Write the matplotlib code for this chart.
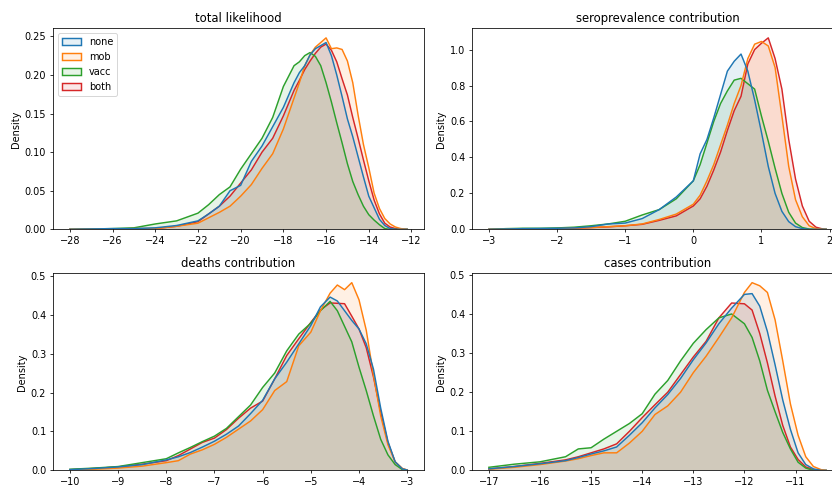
import matplotlib
matplotlib.use("Agg")
import matplotlib.pyplot as plt
from matplotlib.patches import Patch

# hue levels and their colours (seaborn default palette)
labels = ["none", "mob", "vacc", "both"]
colors = ["#1f77b4", "#ff7f0e", "#2ca02c", "#d62728"]

# ---- total likelihood ----
x_total = [-28, -27, -26, -25, -24, -23, -22, -21.5, -21, -20.5, -20, -19.5, -19, -18.5,
           -18, -17.5, -17.25, -17, -16.75, -16.5, -16.25, -16, -15.75, -15.5, -15.25,
           -15, -14.75, -14.5, -14.25, -14, -13.75, -13.5, -13.25, -13, -12.75, -12.5, -12.2]
total_none = [0.0, 0.0005, 0.001, 0.001, 0.002, 0.005, 0.011, 0.02, 0.03, 0.05, 0.057, 0.088,
              0.108, 0.133, 0.158, 0.19, 0.203, 0.212, 0.226, 0.234, 0.238, 0.242, 0.225,
              0.2, 0.172, 0.143, 0.12, 0.094, 0.068, 0.043, 0.028, 0.013, 0.005, 0.001, 0.0,
              0.0, 0.0]
total_mob = [0.0, 0.0003, 0.0005, 0.001, 0.001, 0.004, 0.008, 0.015, 0.022, 0.03, 0.043,
             0.058, 0.079, 0.098, 0.13, 0.17, 0.19, 0.212, 0.226, 0.236, 0.242, 0.248, 0.234,
             0.235, 0.233, 0.218, 0.19, 0.148, 0.11, 0.08, 0.047, 0.027, 0.014, 0.007, 0.003,
             0.001, 0.0]
total_vacc = [0.0, 0.0005, 0.001, 0.002, 0.007, 0.011, 0.021, 0.032, 0.045, 0.055, 0.078,
              0.098, 0.118, 0.145, 0.185, 0.212, 0.217, 0.225, 0.229, 0.224, 0.212, 0.19,
              0.165, 0.138, 0.112, 0.085, 0.062, 0.045, 0.03, 0.019, 0.012, 0.006, 0.001, 0.0,
              0.0, 0.0, 0.0]
total_both = [0.0, 0.0003, 0.0005, 0.001, 0.001, 0.004, 0.01, 0.02, 0.03, 0.043, 0.06, 0.077,
              0.1, 0.118, 0.147, 0.18, 0.193, 0.207, 0.218, 0.228, 0.236, 0.24, 0.232, 0.217,
              0.195, 0.174, 0.145, 0.118, 0.09, 0.063, 0.038, 0.02, 0.008, 0.003, 0.001, 0.0,
              0.0]

# ---- seroprevalence contribution ----
x_sero = [-3, -2.75, -2.5, -2.25, -2, -1.75, -1.5, -1.25, -1, -0.75, -0.5, -0.25, 0, 0.1,
          0.2, 0.3, 0.4, 0.5, 0.6, 0.7, 0.8, 0.9, 1.0, 1.1, 1.2, 1.3, 1.4, 1.5, 1.6, 1.7,
          1.8, 1.9, 1.95]
sero_none = [0.0, 0.002, 0.004, 0.005, 0.006, 0.008, 0.015, 0.03, 0.035, 0.06, 0.11, 0.18,
             0.27, 0.42, 0.5, 0.62, 0.75, 0.88, 0.935, 0.975, 0.88, 0.72, 0.54, 0.35, 0.2,
             0.1, 0.043, 0.015, 0.004, 0.0, 0.0, 0.0, 0.0]
sero_mob = [0.0, 0.001, 0.002, 0.003, 0.004, 0.007, 0.01, 0.015, 0.02, 0.03, 0.055, 0.085,
            0.14, 0.19, 0.27, 0.36, 0.47, 0.58, 0.7, 0.8, 0.95, 1.03, 1.045, 1.02, 0.9, 0.63,
            0.35, 0.165, 0.07, 0.02, 0.004, 0.0, 0.0]
sero_vacc = [0.0, 0.004, 0.006, 0.006, 0.008, 0.012, 0.02, 0.03, 0.045, 0.08, 0.11, 0.17,
             0.27, 0.36, 0.48, 0.6, 0.7, 0.77, 0.83, 0.84, 0.81, 0.78, 0.63, 0.49, 0.34, 0.2,
             0.095, 0.035, 0.01, 0.002, 0.0, 0.0, 0.0]
sero_both = [0.0, 0.001, 0.002, 0.003, 0.004, 0.006, 0.01, 0.014, 0.02, 0.028, 0.05, 0.075,
             0.13, 0.17, 0.24, 0.33, 0.43, 0.55, 0.66, 0.74, 0.92, 1.0, 1.035, 1.065, 0.95,
             0.78, 0.5, 0.28, 0.13, 0.045, 0.012, 0.002, 0.0]

# ---- deaths contribution ----
x_deaths = [-10, -9.5, -9, -8.5, -8, -7.75, -7.5, -7.25, -7, -6.75, -6.5, -6.25, -6, -5.75,
            -5.5, -5.25, -5, -4.8, -4.6, -4.45, -4.3, -4.15, -4.0, -3.85, -3.7, -3.55, -3.4,
            -3.25, -3.1, -3.0]
deaths_none = [0.002, 0.005, 0.009, 0.015, 0.027, 0.035, 0.046, 0.06, 0.075, 0.093, 0.114,
               0.146, 0.18, 0.235, 0.278, 0.325, 0.372, 0.42, 0.445, 0.435, 0.41, 0.385,
               0.363, 0.325, 0.26, 0.16, 0.075, 0.022, 0.004, 0.001]
deaths_mob = [0.001, 0.003, 0.006, 0.011, 0.02, 0.025, 0.042, 0.053, 0.067, 0.085, 0.106,
              0.127, 0.156, 0.205, 0.228, 0.32, 0.355, 0.41, 0.455, 0.476, 0.464, 0.482,
              0.438, 0.36, 0.245, 0.14, 0.066, 0.022, 0.005, 0.001]
deaths_vacc = [0.003, 0.006, 0.01, 0.02, 0.03, 0.045, 0.059, 0.074, 0.088, 0.108, 0.138,
               0.168, 0.213, 0.25, 0.307, 0.35, 0.378, 0.41, 0.434, 0.41, 0.37, 0.33, 0.265,
               0.205, 0.14, 0.08, 0.04, 0.015, 0.002, 0.0]
deaths_both = [0.002, 0.005, 0.009, 0.016, 0.025, 0.038, 0.055, 0.072, 0.083, 0.105, 0.134,
               0.16, 0.178, 0.235, 0.295, 0.338, 0.38, 0.412, 0.43, 0.429, 0.428, 0.396,
               0.363, 0.315, 0.24, 0.15, 0.072, 0.022, 0.004, 0.001]

# ---- cases contribution ----
x_cases = [-17, -16.5, -16, -15.5, -15.25, -15, -14.75, -14.5, -14.25, -14, -13.75, -13.5,
           -13.25, -13, -12.75, -12.5, -12.25, -12, -11.85, -11.7, -11.55, -11.4, -11.25,
           -11.1, -10.95, -10.8, -10.65, -10.5, -10.4]
cases_none = [0.004, 0.01, 0.017, 0.025, 0.033, 0.042, 0.05, 0.06, 0.09, 0.122, 0.16, 0.194,
              0.235, 0.283, 0.326, 0.375, 0.415, 0.45, 0.452, 0.42, 0.355, 0.27, 0.18, 0.105,
              0.045, 0.015, 0.004, 0.0, 0.0]
cases_mob = [0.003, 0.008, 0.015, 0.024, 0.03, 0.038, 0.045, 0.045, 0.07, 0.1, 0.143, 0.165,
             0.2, 0.25, 0.292, 0.34, 0.39, 0.455, 0.48, 0.472, 0.455, 0.385, 0.28, 0.17, 0.09,
             0.035, 0.01, 0.002, 0.0]
cases_vacc = [0.008, 0.016, 0.022, 0.035, 0.055, 0.058, 0.08, 0.1, 0.12, 0.145, 0.195, 0.23,
              0.28, 0.325, 0.36, 0.39, 0.4, 0.375, 0.34, 0.28, 0.205, 0.15, 0.097, 0.055,
              0.021, 0.006, 0.0, 0.0, 0.0]
cases_both = [0.004, 0.01, 0.018, 0.027, 0.035, 0.045, 0.055, 0.068, 0.1, 0.135, 0.168, 0.2,
              0.245, 0.29, 0.33, 0.39, 0.428, 0.426, 0.41, 0.35, 0.275, 0.19, 0.115, 0.06,
              0.028, 0.009, 0.002, 0.0, 0.0]

titles = ["total likelihood", "seroprevalence contribution",
          "deaths contribution", "cases contribution"]

FILL_ALPHA = 0.11


def kde_panel(ax, x, series, title):
    # seaborn draws hue levels in reverse order, so "none" ends on top
    for ys, color in reversed(list(zip(series, colors))):
        ax.fill_between(x, 0, ys, facecolor=color, alpha=FILL_ALPHA, linewidth=0)
        ax.plot(x, ys, color=color, linewidth=1.5, solid_joinstyle="round")
    ax.set_ylim(bottom=0)
    ax.set_title(title)
    ax.set_ylabel("Density")
    ax.tick_params(axis="x", pad=3)


def main():
    fig = plt.figure(figsize=(832 / 70, 488 / 70))

    w = 0.446
    ax1 = fig.add_axes([0.0637, 0.530, w, 0.412])
    ax2 = fig.add_axes([0.5673, 0.530, w, 0.412])
    ax3 = fig.add_axes([0.0637, 0.036, w, 0.404])
    ax4 = fig.add_axes([0.5673, 0.036, w, 0.404])

    kde_panel(ax1, x_total, [total_none, total_mob, total_vacc, total_both], titles[0])
    kde_panel(ax2, x_sero, [sero_none, sero_mob, sero_vacc, sero_both], titles[1])
    kde_panel(ax3, x_deaths, [deaths_none, deaths_mob, deaths_vacc, deaths_both], titles[2])
    kde_panel(ax4, x_cases, [cases_none, cases_mob, cases_vacc, cases_both], titles[3])

    handles = [Patch(facecolor=matplotlib.colors.to_rgba(c, FILL_ALPHA), edgecolor=c,
                     linewidth=1.5) for c in colors]
    ax1.legend(handles, labels, loc="upper left")

    fig.savefig("out.png", dpi=70)


if __name__ == "__main__":
    main()
